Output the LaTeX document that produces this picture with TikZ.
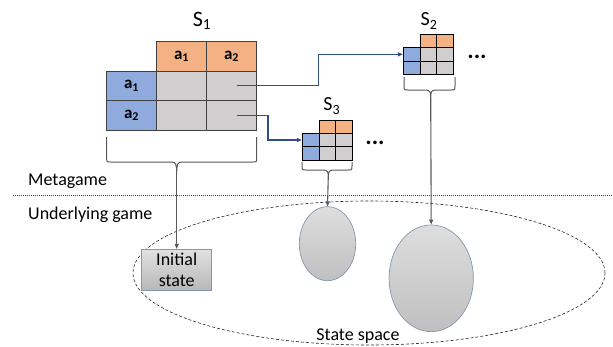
\documentclass[tikz,border=0pt]{standalone}
\usepackage{fontspec}
\setmainfont{Carlito}
\usetikzlibrary{arrows.meta}
\usetikzlibrary{shapes.geometric}
\usetikzlibrary{positioning}
\usetikzlibrary{calc}

\definecolor{hdrorange}{HTML}{F4B183}
\definecolor{rowblue}{HTML}{8FAADC}
\definecolor{cellgray}{HTML}{D0CECE}
\definecolor{linkblue}{HTML}{2F4F8A}
\definecolor{edgegray}{HTML}{404040}
\definecolor{ovalrim}{HTML}{8497B0}

\tikzset{
  bigcell/.style={draw=edgegray, line width=0.8pt, minimum width=50pt, minimum height=29.5pt, inner sep=0pt, font=\fontsize{17}{20}\selectfont\bfseries},
  smallcell/.style={draw=black, line width=0.8pt, minimum width=16.7pt, minimum height=13.3pt, inner sep=0pt},
  link/.style={draw=linkblue, line width=1.2pt, -{Triangle[length=5pt,width=4pt]}},
  drop/.style={draw=black!65, line width=1.1pt, -{Triangle[length=5pt,width=4pt]}},
  brc/.style={draw=black!65, line width=1pt},
  lbl/.style={font=\fontsize{18}{21}\selectfont, inner sep=0pt},
  stateoval/.style={ellipse, draw=ovalrim, line width=0.7pt, top color=black!13, bottom color=black!25, inner sep=0pt},
}

% brace under a matrix: x1, x2, top, bar, x of tip, y of tip, name of tip
\newcommand{\bracebelow}[7]{%
  \draw[brc] (#1,#3) -- (#1,#4-4) .. controls (#1,#4) .. (#1+4,#4) -- (#5-5,#4) .. controls (#5-1,#4) and (#5,#4+2) .. (#5,#6) .. controls (#5,#4+2) and (#5+1,#4) .. (#5+5,#4) -- (#2-4,#4) .. controls (#2,#4) .. (#2,#4-4) -- (#2,#3);
  \coordinate (#7) at (#5,#6);}

\begin{document}
\begin{tikzpicture}[x=1pt,y=-1pt]
  \useasboundingbox (0,0) rectangle (613,346);
  % big game S_1
  \node[lbl, font=\fontsize{22}{26}\selectfont] (s1) at (202,21) {S\textsubscript{1}};
  \node[bigcell,fill=hdrorange] (h1) at (181.5,56.25) {a\textsubscript{1}};
  \node[bigcell,fill=hdrorange] (h2) at (231.5,56.25) {a\textsubscript{2}};
  \node[bigcell,fill=rowblue] (r1) at (131.5,85.75) {a\textsubscript{1}};
  \node[bigcell,fill=rowblue] (r2) at (131.5,115.25) {a\textsubscript{2}};
  \foreach \cx/\cy/\nm in {181.5/85.75/c11, 231.5/85.75/c12, 181.5/115.25/c21, 231.5/115.25/c22}
    \node[bigcell,fill=cellgray] (\nm) at (\cx,\cy) {};
  \bracebelow{106.7}{256.7}{137}{162}{176.7}{174}{t1}
  % small game S_2
  \node[lbl, font=\fontsize{20}{24}\selectfont] (s2) at (429,21) {S\textsubscript{2}};
  \foreach \cx/\k in {428.35/1, 445/2}
    \node[smallcell,fill=hdrorange] (s2h\k) at (\cx,41) {};
  \foreach \cy/\k in {54.35/1, 67.65/2} {
    \node[smallcell,fill=rowblue] (s2r\k) at (411.65,\cy) {};
    \node[smallcell,fill=cellgray] (s2a\k) at (428.35,\cy) {};
    \node[smallcell,fill=cellgray] (s2b\k) at (445,\cy) {};
  }
  \node[lbl, font=\fontsize{24}{24}\selectfont\bfseries] (d2) at (477,57) {...};
  \bracebelow{404}{455}{77}{90}{430.7}{97}{t2}
  % small game S_3
  \node[lbl, font=\fontsize{20}{24}\selectfont] (s3) at (331.7,106) {S\textsubscript{3}};
  \foreach \cx/\k in {327.35/1, 344/2}
    \node[smallcell,fill=hdrorange] (s3h\k) at (\cx,126.65) {};
  \foreach \cy/\k in {140/1, 153.35/2} {
    \node[smallcell,fill=rowblue] (s3r\k) at (310.65,\cy) {};
    \node[smallcell,fill=cellgray] (s3a\k) at (327.35,\cy) {};
    \node[smallcell,fill=cellgray] (s3b\k) at (344,\cy) {};
  }
  \node[lbl, font=\fontsize{24}{24}\selectfont\bfseries] (d3) at (375,143) {...};
  \bracebelow{302}{352}{162}{170}{328.3}{176}{t3}
  % joint actions lead to next games
  \draw[link] ([xshift=5pt]c12.center) -- ++(82,0) |- (s2r1.west);
  \draw[link] ([xshift=5pt]c22.center) -- ++(31.5,0) |- (s3r1.west);
  % levels
  \node[lbl, anchor=west] (meta) at (28,181) {Metagame};
  \draw[black!70, dash pattern=on 1pt off 1pt, line width=0.8pt] (12.7,195) -- (613,195);
  \node[lbl, anchor=west] (under) at (28,215) {Underlying game};
  % state space
  \draw[black!85, dash pattern=on 3pt off 2pt, line width=0.6pt] (369,273) ellipse [x radius=236pt, y radius=72pt];
  \node[lbl] (space) at (358,336) {State space};
  \node[lbl, draw=ovalrim, line width=0.7pt, top color=black!12, bottom color=black!28, minimum width=70pt, minimum height=40.7pt, align=center] (init) at (176.7,269.6) {Initial\\state};
  \node[stateoval, minimum width=56.4pt, minimum height=74pt] (e3) at (327.5,243.7) {};
  \node[stateoval, minimum width=84.3pt, minimum height=106.7pt] (e2) at (431.2,278.3) {};
  \draw[drop] (t1) -- (init.north);
  \draw[drop] (t3) -- (e3.north);
  \draw[drop] (t2) -- (e2.north);
\end{tikzpicture}
\end{document}
